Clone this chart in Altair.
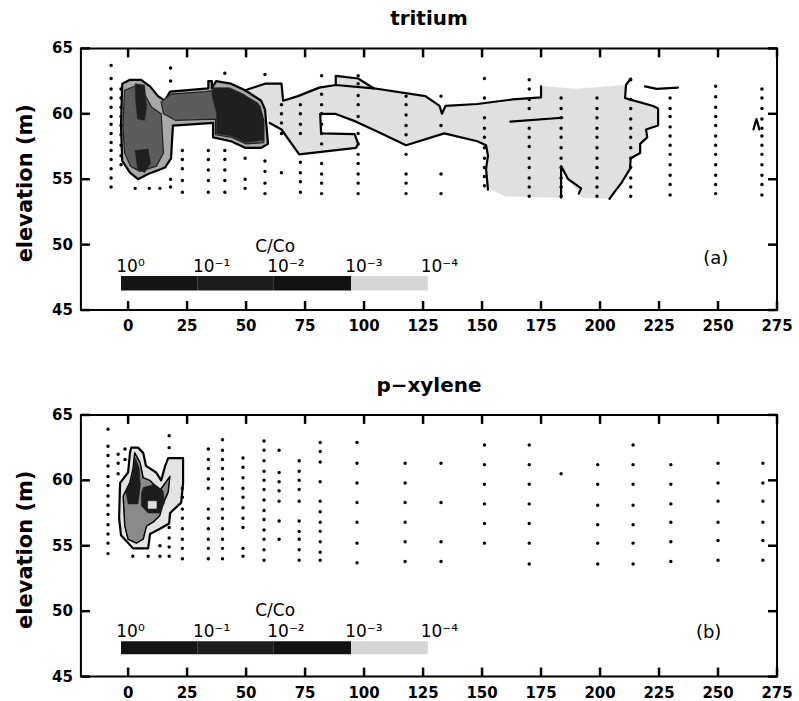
import altair as alt
import pandas as pd

# ---------------- data ----------------
X_TICKS = [0, 25, 50, 75, 100, 125, 150, 175, 200, 225, 250, 275]
Y_TICKS = [45, 50, 55, 60, 65]
X_DOMAIN = [-20, 275]
Y_DOMAIN = [45, 65]
Y_TITLE = "elevation  (m)"

# sampling points (well position -> sampled elevations), tritium panel
WELLS_A = {
    -7.2: [63.7, 62.7, 61.9, 61.2, 60.5, 59.8, 59.2, 58.5, 57.8, 57.2, 56.5, 55.8, 55.1, 54.4],
    -3.0: [61.9, 61.2, 60.5, 59.8, 59.1, 58.4, 57.6, 56.8, 56.1],
    3.0: [54.3], 9.0: [54.3], 13.5: [54.3],
    18.0: [63.5, 62.5, 55.0, 54.4],
    23.0: [57.2, 56.5, 55.8, 54.9, 54.0],
    34.0: [57.2, 56.5, 55.7, 54.9, 54.0],
    41.0: [63.1, 57.2, 56.5, 55.7, 54.9, 54.0],
    49.6: [56.6, 55.0, 54.3],
    58.0: [63.0, 56.4, 55.6, 54.7, 53.9],
    65.0: [60.7, 60.0, 59.3, 58.5, 55.5],
    73.0: [60.7, 60.0, 59.2, 58.5, 56.3, 55.5, 54.8, 54.0],
    82.0: [62.9, 61.5, 60.7, 60.0, 59.2, 58.5, 57.7, 56.2, 55.4, 54.7, 53.9],
    97.5: [62.9, 62.3, 61.4, 60.7, 59.8, 58.5, 57.7, 56.9, 56.2, 55.4, 54.7, 53.9],
    117.8: [61.35, 60.7, 59.9, 59.1, 58.4, 56.9, 55.4, 54.7, 53.9],
    132.6: [61.35, 59.1, 55.4, 53.9],
    151.0: [62.7, 61.2, 59.7, 58.9, 58.2, 57.4, 56.6, 55.9, 55.2, 54.5],
    170.0: [62.6, 61.9, 61.1, 60.4, 58.9, 58.2, 57.5, 56.6, 55.9, 55.1, 54.4, 53.7],
    183.5: [61.2, 60.4, 59.7, 58.9, 58.2, 57.4, 56.6, 55.9, 55.1, 54.4, 53.7],
    198.7: [61.2, 60.4, 59.7, 58.9, 58.2, 57.4, 56.6, 55.9, 55.1, 54.4, 53.7],
    213.0: [62.6, 61.1, 60.4, 59.6, 58.9, 58.2, 57.4, 56.6, 55.9, 55.1, 54.4, 53.7],
    229.7: [61.2, 60.4, 59.8, 59.0, 58.3, 57.6, 56.9, 56.1, 55.3, 54.6, 53.8],
    249.0: [62.1, 61.3, 60.5, 59.8, 59.1, 58.3, 57.6, 56.9, 56.1, 55.3, 54.6, 53.9],
    268.6: [61.9, 61.2, 60.4, 59.6, 58.9, 58.3, 57.6, 56.9, 56.1, 55.3, 54.6, 53.8],
}

# sampling points, p-xylene panel
WELLS_B = {
    -8.5: [63.9, 62.6, 61.9, 61.1, 60.3, 59.6, 58.8, 58.1, 57.4, 56.6, 55.9, 55.2, 54.4],
    -4.2: [62.0, 61.3, 60.5],
    -1.3: [62.4, 61.6],
    2.0: [54.2], 8.5: [54.2],
    13.5: [55.0, 54.2],
    17.4: [63.4, 62.5, 56.4, 55.6, 54.9, 54.2],
    23.0: [59.4, 58.7, 57.8, 57.1, 56.3, 55.5, 54.8, 54.0],
    34.0: [62.4, 61.6, 60.9, 60.1, 59.4, 57.8, 57.1, 56.3, 55.5, 54.8, 54.0],
    40.0: [63.1, 62.3, 61.6, 60.9, 60.1, 59.4, 58.6, 57.8, 57.1, 56.3, 55.5, 54.8, 54.0],
    48.7: [61.7, 61.0, 60.2, 59.4, 58.7, 57.9, 57.1, 56.4, 54.8, 54.2],
    57.6: [63.0, 62.3, 61.5, 60.7, 60.0, 59.3, 58.5, 57.7, 57.0, 56.2, 55.5, 54.7, 53.9],
    64.0: [62.3, 60.6, 59.9, 59.2, 58.4, 56.9, 55.5],
    72.5: [61.5, 60.7, 60.0, 59.3, 58.4, 56.9, 56.1, 55.5, 54.7, 53.9],
    81.4: [62.9, 62.2, 61.4, 59.9, 58.4, 57.6, 56.8, 56.1, 55.3, 54.5, 53.9],
    97.0: [62.9, 61.3, 59.8, 58.3, 56.8, 55.2, 53.7],
    117.4: [61.3, 59.8, 58.3, 56.8, 55.3, 53.8],
    132.6: [61.3, 58.3, 55.3, 53.8],
    151.0: [62.7, 61.2, 59.7, 58.2, 56.7, 55.2],
    170.0: [62.7, 61.2, 59.7, 58.2, 56.7, 55.2, 53.6],
    183.5: [60.5],
    199.0: [61.2, 59.7, 58.1, 56.6, 55.2, 53.6],
    214.0: [62.7, 61.2, 59.7, 58.1, 56.6, 55.2, 53.6],
    230.0: [61.2, 59.7, 58.2, 56.8, 55.3, 53.8],
    250.0: [61.3, 59.8, 58.4, 56.8, 55.4, 53.9],
    269.0: [61.3, 59.8, 58.4, 56.8, 55.4, 53.9],
}

# contour regions, tritium (x, elevation)
LIGHT_A = [[(49.6, 61.8), (58, 62.3), (65, 62.3), (65.7, 61.0), (72, 61.35), (81, 62.0), (88, 62.2),
            (88, 62.9), (97.5, 62.7), (104, 61.95), (126, 61.35), (132, 60.6), (133, 60.0), (134.5, 60.6),
            (148, 60.75), (163, 61.1), (175, 61.25), (175, 62.1), (190, 61.9), (205, 62.1), (211, 62.2),
            (210.6, 61.2), (222.5, 60.6), (224.6, 60.4), (224.6, 59.1), (219.5, 58.8), (220, 58.2),
            (217, 57.7), (217, 57.0), (213, 56.6), (212.7, 55.8), (209, 54.7), (206, 54.0), (204, 53.5),
            (192, 53.6), (191, 54.0), (186.5, 55.0), (183.5, 56.0), (183.5, 53.6), (160, 53.7),
            (152.5, 54.3), (151.7, 55.8), (152.5, 56.8), (151.7, 57.6), (148, 57.9), (134, 58.5),
            (117.8, 57.6), (106, 58.6), (96.6, 59.4), (87.7, 60.0), (81.4, 60.0), (81.8, 58.5), (96, 58.45),
            (97.5, 57.7), (96.6, 57.4), (72.5, 56.9), (65, 58.8), (60, 59.3), (58, 60.35), (56.4, 61.0)]]
LINES_A = [
    [(49.6, 61.8), (58, 62.3), (65, 62.3), (65.7, 61.0), (72, 61.35), (81, 62.0), (88, 62.2), (104, 61.95)],
    [(88, 62.2), (88, 62.9), (97.5, 62.7), (104, 61.95)],
    [(104, 61.95), (126, 61.35), (132, 60.6), (133, 60.0), (134.5, 60.6), (148, 60.75), (163, 61.1),
     (175, 61.25), (175, 62.1)],
    [(213, 62.7), (211, 62.2), (210.6, 61.2), (222.5, 60.6), (224.6, 60.4), (224.6, 59.1), (219.5, 58.8),
     (220, 58.2), (217, 57.7), (217, 57.0), (213, 56.6), (212.7, 55.8), (209, 54.7), (206, 54.0), (204, 53.5)],
    [(191, 53.9), (192, 54.3), (186.5, 55.0), (183.5, 56.0), (183.5, 53.6)],
    [(152.5, 54.2), (151.7, 55.8), (152.5, 56.8), (151.7, 57.6), (148, 57.9), (134, 58.5), (117.8, 57.6),
     (106, 58.6), (96.6, 59.4), (87.7, 60.0), (81.4, 60.0), (81.8, 58.5), (96, 58.45), (97.5, 57.7),
     (96.6, 57.4), (72.5, 56.9), (65, 58.8), (60, 59.3)],
    [(162, 59.4), (184, 59.7)],
    [(219, 62.1), (224, 61.9), (233, 62.0)],
    [(265, 58.8), (266.3, 59.6), (267.5, 58.8)],
]
MID_A = [[(-2.5, 62.3), (0.8, 62.6), (5.5, 62.6), (9.3, 62.1), (12.7, 61.35), (15.5, 61.0), (17.8, 61.7),
          (34, 61.95), (34, 62.5), (35.5, 62.5), (35.5, 61.95), (37.3, 62.5), (43.6, 62.3), (49.6, 61.8),
          (56.4, 61.0), (58, 60.35), (59.3, 57.7), (56.4, 57.4), (49.6, 57.4), (43.6, 57.9), (36, 58.2),
          (36, 59.3), (19, 59.1), (18.2, 56.6), (15.7, 55.9), (8.5, 55.4), (4.2, 55.0), (0.8, 55.5),
          (-2.5, 56.4), (-3, 59.1)]]
DARK1_A = [
    [(-1.5, 61.8), (4, 62.2), (7, 61.5), (10, 60.5), (14, 60.0), (15, 57.0), (12, 56.0), (5, 55.6),
     (1, 56.0), (-1.5, 57.0), (-2.2, 59.0)],
    [(14, 60.9), (18, 61.5), (33, 61.7), (40, 61.9), (47, 61.6), (55, 60.8), (57.5, 59.5), (57.5, 57.8),
     (50, 57.7), (44, 58.2), (37, 58.4), (37, 59.6), (20, 59.5), (15, 60.0)],
]
DARK2_A = [
    [(3.0, 62.3), (7.0, 62.2), (7.8, 60.5), (7.0, 59.5), (4.0, 59.6), (3.2, 61.0)],
    [(3.0, 57.2), (8.5, 57.3), (9.5, 56.2), (7.0, 55.5), (4.0, 55.8)],
    [(36, 62.0), (43, 62.0), (49, 61.5), (56, 60.6), (57.5, 59.5), (57.5, 58.0), (50, 57.8), (44, 58.3),
     (37.5, 58.5), (37.5, 60.0), (35.5, 61.5)],
]

# contour regions, p-xylene
OUTER_B = [[(1.3, 62.5), (4.2, 62.5), (6.4, 62.1), (7.6, 61.1), (11.9, 60.6), (14, 60.0), (15.7, 61.1),
            (17, 61.7), (23.3, 61.7), (23.3, 59.8), (22.5, 58.3), (17.8, 57.5), (17.4, 56.7), (13.5, 56.3),
            (9.3, 55.9), (8.5, 54.8), (2.1, 54.8), (-3, 55.8), (-3.8, 57.1), (-3.4, 59.8), (0, 60.6),
            (0.8, 62.1)]]
INNER_B = [[(2.8, 62.1), (5.0, 61.4), (6.4, 60.2), (9.2, 60.0), (13.4, 59.2), (17.7, 60.3), (17.0, 59.1),
            (14.8, 58.2), (13.4, 57.3), (10.6, 56.8), (7.8, 56.5), (6.4, 55.5), (3.5, 55.2), (0, 55.5),
            (-1.4, 56.5), (-2.1, 58.8), (0.7, 59.8), (2.1, 60.9)]]
CORE_B = [
    [(3.2, 61.7), (4.7, 60.9), (5.2, 59.6), (4.2, 58.2), (0, 58.2), (-1.0, 59.2), (1.4, 60.0), (2.4, 61.1)],
    [(6.4, 59.45), (11.3, 59.7), (14.8, 59.2), (15.5, 58.3), (13.4, 57.5), (8.5, 57.5), (5.6, 58.05),
     (5.6, 59.0)],
]
HOLE_B = [[(8.5, 58.4), (12.0, 58.4), (12.0, 57.85), (8.5, 57.85)]]

# colour bar C/Co
CBAR_EDGES = [-3, 29.5, 61.5, 94.5, 127]
CBAR_LEVELS = ["1e0", "1e-1", "1e-2", "1e-3"]
CBAR_LABELS = ["10⁰", "10⁻¹", "10⁻²", "10⁻³", "10⁻⁴"]
CBAR_LABEL_X = [-5, 27.5, 59, 92, 124]
CBAR_Y_A = (46.5, 47.6)
CBAR_Y_B = (46.7, 47.7)
CBAR_LABEL_Y_A = 47.9
CBAR_LABEL_Y_B = 48.0
CBAR_TITLE_A = (62.3, 49.8)
CBAR_TITLE_B = (62.3, 50.0)
PANEL_LABEL_A = ("(a)", 249, 48.9)
PANEL_LABEL_B = ("(b)", 246, 48.35)

# ---------------- helpers ----------------
FONT = "DejaVu Sans"
W, H = 697, 262
TICK_LEN = 9
TICK_W = 2.5
XS = alt.Scale(domain=X_DOMAIN, nice=False, zero=False)
YS = alt.Scale(domain=Y_DOMAIN, nice=False, zero=False)


def poly_df(polys):
    rows = []
    for pid, pts in enumerate(polys):
        for i, (x, y) in enumerate(pts):
            rows.append({"pid": pid, "i": i, "x": x, "y": y})
    return pd.DataFrame(rows)


def enc_xy():
    return dict(
        x=alt.X("x:Q", scale=XS, axis=None),
        y=alt.Y("y:Q", scale=YS, axis=None),
    )


def fill_layer(polys, fill, stroke, sw):
    return alt.Chart(poly_df(polys)).mark_line(
        fill=fill, stroke=stroke, strokeWidth=sw, interpolate="linear-closed", strokeJoin="round"
    ).encode(**enc_xy(), detail="pid:N", order="i:Q")


def line_layer(lines, sw=2.2, cap="round"):
    return alt.Chart(poly_df(lines)).mark_line(
        color="black", strokeWidth=sw, strokeJoin="round", strokeCap=cap
    ).encode(**enc_xy(), detail="pid:N", order="i:Q")


def tick_rects():
    # inward tick marks as thin rectangles; pixel sizes converted to data units
    ux = (X_DOMAIN[1] - X_DOMAIN[0]) / W
    uy = (Y_DOMAIN[1] - Y_DOMAIN[0]) / H
    hx, hy = TICK_W / 2 * ux, TICK_W / 2 * uy
    lx, ly = TICK_LEN * ux, TICK_LEN * uy
    rows = []
    for v in X_TICKS:
        rows.append({"x": v - hx, "x2": v + hx, "y": Y_DOMAIN[0], "y2": Y_DOMAIN[0] + ly})
        rows.append({"x": v - hx, "x2": v + hx, "y": Y_DOMAIN[1] - ly, "y2": Y_DOMAIN[1]})
    for v in Y_TICKS:
        rows.append({"x": X_DOMAIN[0], "x2": X_DOMAIN[0] + lx, "y": v - hy, "y2": v + hy})
        rows.append({"x": X_DOMAIN[1] - lx, "x2": X_DOMAIN[1], "y": v - hy, "y2": v + hy})
    return alt.Chart(pd.DataFrame(rows)).mark_rect(color="black").encode(
        x=alt.X("x:Q", scale=XS, axis=None), x2="x2:Q",
        y=alt.Y("y:Q", scale=YS, axis=None), y2="y2:Q",
    )


def frame_layers():
    """Inward tick marks on all four sides plus tick labels and the y title."""
    xt = pd.DataFrame({"v": X_TICKS})
    yt = pd.DataFrame({"v": Y_TICKS})
    xv = alt.X("v:Q", scale=XS, axis=None)
    yv = alt.Y("v:Q", scale=YS, axis=None)
    lab_style = dict(font=FONT, fontSize=15, fontWeight="bold", color="black")
    ttl = pd.DataFrame({"t": [Y_TITLE]})
    return [
        tick_rects(),
        alt.Chart(xt).mark_text(align="center", baseline="top", **lab_style).encode(
            x=xv, y=alt.value(H + 9), text=alt.Text("v:Q", format="d")),
        alt.Chart(yt).mark_text(align="right", baseline="middle", **lab_style).encode(
            y=yv, x=alt.value(-8), text=alt.Text("v:Q", format="d")),
        alt.Chart(ttl).mark_text(align="center", baseline="middle", angle=270, font=FONT,
                                 fontSize=21, fontWeight="bold", color="black").encode(
            x=alt.value(-55), y=alt.value(H / 2 + 4), text="t:N"),
    ]


def wells_df(wells):
    rows = []
    for x, elevs in wells.items():
        for e in elevs:
            rows.append({"x": x, "y": e})
    return pd.DataFrame(rows)


def panel(title, wells, fills, lines, cbar_y, cbar_label_y, cbar_title, plabel):
    layers = []
    for polys, fill, stroke, sw in fills:
        layers.append(fill_layer(polys, fill, stroke, sw))
    if lines:
        layers.append(line_layer(lines))

    dots = alt.Chart(wells_df(wells)).mark_circle(size=12, color="black", opacity=1).encode(**enc_xy())
    layers.append(dots)

    cb = pd.DataFrame({
        "x": CBAR_EDGES[:-1], "x2": CBAR_EDGES[1:], "level": CBAR_LEVELS,
        "y": [cbar_y[0]] * 4, "y2": [cbar_y[1]] * 4,
    })
    bar = alt.Chart(cb).mark_rect().encode(
        x=alt.X("x:Q", scale=XS, axis=None),
        x2="x2:Q",
        y=alt.Y("y:Q", scale=YS, axis=None),
        y2="y2:Q",
        color=alt.Color("level:N", scale=alt.Scale(domain=CBAR_LEVELS,
                        range=["#141414", "#1c1c1c", "#121212", "#d5d5d5"]), legend=None),
    )
    layers.append(bar)

    lab = pd.DataFrame({"x": CBAR_LABEL_X, "y": [cbar_label_y] * 5, "t": CBAR_LABELS})
    layers.append(alt.Chart(lab).mark_text(align="left", baseline="alphabetic", font=FONT,
                                           fontSize=17, color="black").encode(**enc_xy(), text="t:N"))
    ct = pd.DataFrame({"x": [cbar_title[0]], "y": [cbar_title[1]], "t": ["C/Co"]})
    layers.append(alt.Chart(ct).mark_text(align="center", baseline="middle", font=FONT,
                                          fontSize=17, color="black").encode(**enc_xy(), text="t:N"))
    pl = pd.DataFrame({"x": [plabel[1]], "y": [plabel[2]], "t": [plabel[0]]})
    layers.append(alt.Chart(pl).mark_text(align="center", baseline="middle", font=FONT,
                                          fontSize=18, color="black").encode(**enc_xy(), text="t:N"))
    layers.extend(frame_layers())

    return alt.layer(*layers).properties(
        width=W, height=H,
        title=alt.TitleParams(title, font=FONT, fontSize=20, fontWeight="bold", color="black",
                              anchor="middle", offset=12),
    )


fills_a = [
    (LIGHT_A, "#e0e0e0", "#e0e0e0", 0.5),
    (MID_A, "#a9a9a9", "black", 2.2),
    (DARK1_A, "#5c5c5c", "#222222", 1.2),
    (DARK2_A, "#1f1f1f", "#1f1f1f", 0.5),
]
fills_b = [
    (OUTER_B, "#e4e4e4", "black", 2.2),
    (INNER_B, "#8a8a8a", "black", 1.5),
    (CORE_B, "#1c1c1c", "#1c1c1c", 0.5),
    (HOLE_B, "#e0e0e0", "#e0e0e0", 0.5),
]

pa = panel("tritium", WELLS_A, fills_a, LINES_A, CBAR_Y_A, CBAR_LABEL_Y_A, CBAR_TITLE_A, PANEL_LABEL_A)
pb = panel("p\u2212xylene", WELLS_B, fills_b, None, CBAR_Y_B, CBAR_LABEL_Y_B, CBAR_TITLE_B, PANEL_LABEL_B)

chart = alt.vconcat(pa, pb, spacing=40).properties(
    padding={"left": 14, "top": 8, "right": 5, "bottom": 0},
    background="white",
).configure_view(stroke="black", strokeWidth=2)

chart.save("out.html", embed_options={"renderer": "svg", "actions": False})
